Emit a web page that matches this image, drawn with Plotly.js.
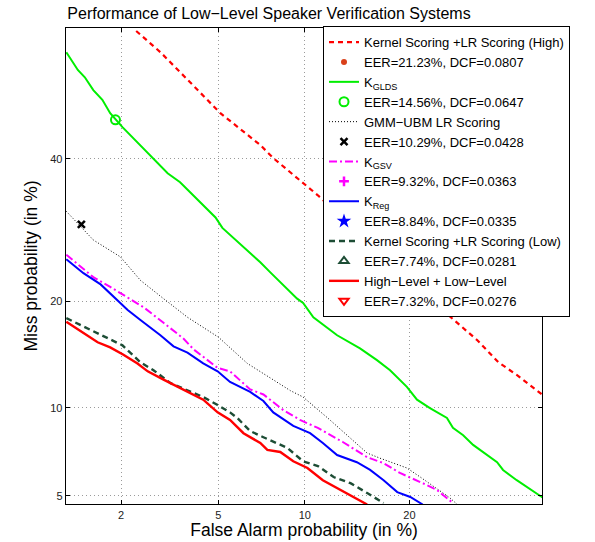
<!DOCTYPE html>
<html>
<head>
<meta charset="utf-8">
<script src="https://cdn.plot.ly/plotly-3.0.1.min.js"></script>
<style>html,body{margin:0;padding:0;background:#fff;}#chart{width:595px;height:542px;}</style>
</head>
<body>
<div id="chart"></div>
<script>
// ---- Data (percent values) ----
const kernelHighFA   = [2.33, 2.95, 3.91, 5.09, 7.10, 7.87, 11.0, 16.7, 24.1, 28.9, 32.0, 34.8, 38.8];
const kernelHighMiss = [60.8, 57.4, 52.4, 47.4, 42.2, 40.1, 34.3, 26.2, 19.0, 15.8, 13.7, 12.6, 11.0];

const gldsFA   = [1.12,1.27,1.37,1.50,1.65,1.79,2.03,2.38,2.73,3.16,3.55,4.16,4.88,5.18,5.68,6.39,7.10,7.69,9.45,9.88,10.65,12.6,14.7,16.4,17.8,19.7,20.9,22.5,24.7,25.5,26.9,28.3,31.8,32.7,34.8,39.0];
const gldsMiss = [57.4,54.5,53.3,51.2,49.6,47.4,45.1,42.5,40.3,37.7,36.3,33.6,31.0,29.5,28.1,26.4,24.8,23.5,20.3,19.8,18.2,16.3,15.0,13.9,13.0,11.6,10.6,9.98,9.28,8.62,8.15,7.57,6.60,6.20,5.70,4.91];

const gmmFA   = [1.12,1.50,1.99,2.43,3.04,3.80,5.01,6.39,8.98,9.88,11.8,15.4,16.7,19.7,21.3,25.1,26.1];
const gmmMiss = [31.9,27.8,25.5,22.5,20.3,18.2,16.1,13.6,11.3,10.8,9.28,7.10,6.82,6.30,5.85,4.91,4.64];

const gsvFA   = [1.12,1.31,1.50,1.79,2.14,2.51,3.04,3.65,4.02,4.97,5.53,6.54,7.28,8.51,9.65,11.0,13.1,15.4,17.1,18.9,21.6,23.4,25.5];
const gsvMiss = [25.8,24.2,22.9,21.7,20.4,19.3,17.6,16.0,14.9,13.2,12.9,11.4,11.0,9.83,9.15,8.62,7.74,6.87,6.55,6.05,5.56,5.25,4.70];

const regFA   = [1.12,1.35,1.62,1.85,2.14,2.43,2.95,3.34,3.80,4.38,4.97,5.53,6.54,7.28,7.87,9.18,10.4,11.4,12.6,14.4,15.7,17.1,18.6,20.1,21.6];
const regMiss = [25.2,23.4,22.0,20.5,19.0,17.9,16.3,15.2,14.6,13.6,12.9,12.0,11.2,10.5,9.67,8.75,8.28,7.68,6.99,6.60,6.20,5.70,5.16,4.95,4.64];

const kernelLowFA   = [1.12,1.35,1.62,2.03,2.43,2.76,3.25,3.80,4.38,4.97,5.53,5.88,6.54,7.28,8.11,8.78,9.88,11.0,12.3,13.8,15.4,17.1];
const kernelLowMiss = [18.1,17.2,16.4,15.3,13.7,13.0,11.9,11.3,10.8,10.2,9.67,9.28,8.42,8.03,7.68,7.39,6.65,6.40,5.85,5.56,5.12,4.70];

const fusedFA   = [1.12,1.35,1.57,1.79,2.05,2.36,2.61,3.04,3.55,4.38,4.97,5.53,6.19,7.10,7.51,8.31,9.18,10.2,11.4,12.9,14.1,15.4];
const fusedMiss = [17.7,16.5,15.6,15.1,14.4,13.6,12.9,12.2,11.5,10.6,9.67,9.15,8.28,7.68,7.28,7.16,6.65,6.30,5.70,5.25,4.95,4.64];

// operating-point markers (FA %, Miss %); some lie outside the visible window
const markerFA   = [0.90, 1.89, 1.32, 0.80, 0.75, 0.70, 0.65];
const markerMiss = [70.0, 46.3, 30.0, 30.0, 29.0, 21.0, 20.0];

const lineNames   = ['Kernel Scoring +LR Scoring (High)', 'K<sub>GLDS</sub>', 'GMM\u2212UBM LR Scoring', 'K<sub>GSV</sub>', 'K<sub>Reg</sub>', 'Kernel Scoring +LR Scoring (Low)', 'High\u2212Level + Low\u2212Level'];
const markerNames = ['EER=21.23%, DCF=0.0807', 'EER=14.56%, DCF=0.0647', 'EER=10.29%, DCF=0.0428', 'EER=9.32%, DCF=0.0363', 'EER=8.84%, DCF=0.0335', 'EER=7.74%, DCF=0.0281', 'EER=7.32%, DCF=0.0276'];

const xTickPct = [2, 5, 10, 20];
const yTickPct = [5, 10, 20, 40];
const xRangePct = [1.116, 38.8];
const yRangePct = [4.66, 61.27];

// ---- probit (normal deviate) transform for DET axes ----
function probit(p){
  const a=[-3.969683028665376e+01,2.209460984245205e+02,-2.759285104469687e+02,1.383577518672690e+02,-3.066479806614716e+01,2.506628277459239e+00];
  const b=[-5.447609879822406e+01,1.615858368580409e+02,-1.556989798598866e+02,6.680131188771972e+01,-1.328068155288572e+01];
  const c=[-7.784894002430293e-03,-3.223964580411365e-01,-2.400758277161838e+00,-2.549732539343734e+00,4.374664141464968e+00,2.938163982698783e+00];
  const d=[7.784695709041462e-03,3.224671290700398e-01,2.445134137142996e+00,3.754408661907416e+00];
  const pl=0.02425, ph=1-pl; let q,r;
  if(p<pl){q=Math.sqrt(-2*Math.log(p));return (((((c[0]*q+c[1])*q+c[2])*q+c[3])*q+c[4])*q+c[5])/((((d[0]*q+d[1])*q+d[2])*q+d[3])*q+1);}
  if(p<=ph){q=p-0.5;r=q*q;return (((((a[0]*r+a[1])*r+a[2])*r+a[3])*r+a[4])*r+a[5])*q/(((((b[0]*r+b[1])*r+b[2])*r+b[3])*r+b[4])*r+1);}
  q=Math.sqrt(-2*Math.log(1-p));return -(((((c[0]*q+c[1])*q+c[2])*q+c[3])*q+c[4])*q+c[5])/((((d[0]*q+d[1])*q+d[2])*q+d[3])*q+1);
}
const pz = arr => arr.map(v => probit(v/100));

const lineFA   = [kernelHighFA, gldsFA, gmmFA, gsvFA, regFA, kernelLowFA, fusedFA];
const lineMiss = [kernelHighMiss, gldsMiss, gmmMiss, gsvMiss, regMiss, kernelLowMiss, fusedMiss];
const lineStyles = [
  {color:'#ff0000', width:2.2, dash:'5px,4px'},
  {color:'#00ee00', width:2, dash:'solid'},
  {color:'#000000', width:1, dash:'1px,2px'},
  {color:'#ff00ff', width:2, dash:'8px,3px,2px,3px'},
  {color:'#0000ff', width:2, dash:'solid'},
  {color:'#1d4d35', width:2.4, dash:'6px,4px'},
  {color:'#ff0000', width:2.4, dash:'solid'}
];
const markerStyles = [
  {symbol:'circle', color:'#d9401a', size:6},
  {symbol:'circle-open', color:'#00ee00', size:9, line:{width:2}},
  {symbol:'x-thin-open', color:'#000000', size:7, line:{width:2.5, color:'#000000'}},
  {symbol:'cross-thin-open', color:'#ff00ff', size:7, line:{width:2.5, color:'#ff00ff'}},
  {symbol:'star', color:'#0000ff', size:11},
  {symbol:'triangle-up-open', color:'#1d4d35', size:8, line:{width:2}},
  {symbol:'triangle-down-open', color:'#ff0000', size:8, line:{width:2}}
];

const traces = [];
for (let i = 0; i < lineNames.length; i++) {
  traces.push({type:'scatter', mode:'lines', x:pz(lineFA[i]), y:pz(lineMiss[i]), name:lineNames[i], line:lineStyles[i], hoverinfo:'skip'});
  const ms = Object.assign({}, markerStyles[i]);
  if (ms.line) ms.line = Object.assign({color: ms.color}, ms.line);
  traces.push({type:'scatter', mode:'markers', x:[probit(markerFA[i]/100)], y:[probit(markerMiss[i]/100)], name:markerNames[i], marker:ms, cliponaxis:true, hoverinfo:'skip'});
}

const FONT = 'Liberation Sans, Arial, Helvetica, sans-serif';
const axisCommon = {
  showline:true, mirror:'allticks', linecolor:'#000', linewidth:1.3,
  ticks:'inside', ticklen:4, tickcolor:'#000', tickwidth:1,
  showgrid:true, gridcolor:'#9a9a9a', griddash:'1px,3px', gridwidth:1,
  zeroline:false, tickfont:{family:FONT, size:11, color:'#222'}
};

const layout = {
  width:595, height:542,
  margin:{l:66, r:53, t:28, b:38},
  paper_bgcolor:'#fff', plot_bgcolor:'#fff',
  font:{family:FONT, color:'#000'},
  title:{text:'Performance of Low\u2212Level Speaker Verification Systems', font:{family:FONT, size:16, color:'#000'},
         x:269/595, xref:'container', xanchor:'center', y:1-13/542, yref:'container', yanchor:'middle'},
  xaxis:Object.assign({}, axisCommon, {
    range:[probit(xRangePct[0]/100), probit(xRangePct[1]/100)],
    tickvals:pz(xTickPct), ticktext:xTickPct.map(String),
    title:{text:'False Alarm probability (in %)', font:{family:FONT, size:17.5, color:'#000'}, standoff:3}
  }),
  yaxis:Object.assign({}, axisCommon, {
    range:[probit(yRangePct[0]/100), probit(yRangePct[1]/100)],
    tickvals:pz(yTickPct), ticktext:yTickPct.map(String),
    title:{text:'Miss probability (in %)', font:{family:FONT, size:17.5, color:'#000'}, standoff:8}
  }),
  showlegend:true,
  legend:{x:(323-66)/476, y:1.004, xanchor:'left', yanchor:'top', bgcolor:'#fff', bordercolor:'#000', borderwidth:1,
          font:{family:FONT, size:13, color:'#000'}, tracegroupgap:0, traceorder:'normal', maxheight:340,
          entrywidth:238, entrywidthmode:'pixels'}
};

Plotly.newPlot('chart', traces, layout, {displayModeBar:false, staticPlot:true});
</script>
</body>
</html>
